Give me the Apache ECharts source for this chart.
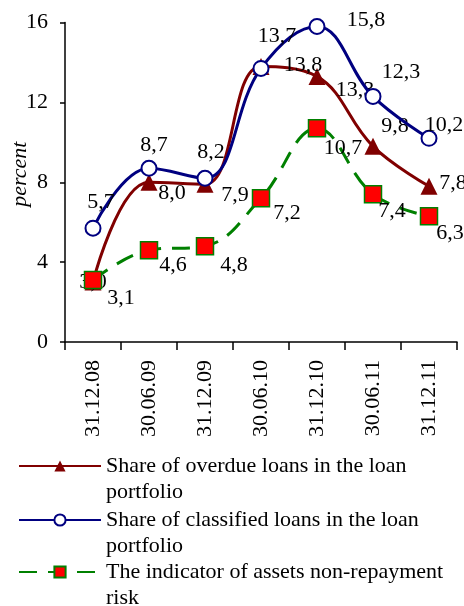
<!DOCTYPE html>
<html>
<head>
<meta charset="utf-8">
<script src="https://cdn.jsdelivr.net/npm/echarts@6/dist/echarts.min.js"></script>
<style>
  html, body { margin: 0; padding: 0; background: #fff; }
  #chart { width: 464px; height: 606px; }
</style>
</head>
<body>
<div id="chart"></div>
<script>
  // data
  let categories = ['31.12.08', '30.06.09', '31.12.09', '30.06.10', '31.12.10', '30.06.11', '31.12.11'];
  let overdue = [3.0, 8.0, 7.9, 13.8, 13.3, 9.8, 7.8];
  let classified = [5.7, 8.7, 8.2, 13.7, 15.8, 12.3, 10.2];
  let risk = [3.1, 4.6, 4.8, 7.2, 10.7, 7.4, 6.3];
  let names = [
    'Share of overdue loans in the loan\nportfolio',
    'Share of classified loans in the loan\nportfolio',
    'The indicator of assets non-repayment\nrisk'
  ];
  let yTicks = { min: 0, max: 16, interval: 4 };

  // label nudges (px, relative to the point), style only
  let overdueNudge = [[0, 0], [23, 11], [30, 11], [42, -1], [38, 14], [22, -20], [24, -3]];
  let classifiedNudge = [[8, -26], [5, -23], [6, -26], [16, -32], [49, -6], [28, -24], [15, -13]];
  let riskNudge = [[28, 18], [24, 15], [29, 19], [26, 15], [26, 20], [19, 17], [21, 17]];

  let font = 'Liberation Serif';

  function withLabels(values, nudge){
    return values.map(function(v, i){
      return { value: v, label: { offset: nudge[i] } };
    });
  }

  let chart = echarts.init(document.getElementById('chart'));
  let labelBase = {
    show: true,
    position: 'inside',
    color: '#000',
    fontFamily: font,
    fontSize: 22,
    formatter: function(p){ return p.value.toFixed(1).replace('.', ','); }
  };

  function legendFor(idx, top){
    return {
      orient: 'vertical',
      left: 18,
      top: top,
      padding: 0,
      itemWidth: 82,
      itemHeight: 14,
      data: [names[idx]],
      selectedMode: false,
      // empty first line so the icon sits beside the first text line
      formatter: function(name){ return '\n' + name; },
      textStyle: {
        fontFamily: font,
        fontSize: 22,
        color: '#000',
        lineHeight: 26
      }
    };
  }

  let option = {
    animation: false,
    legend: [legendFor(0, 427), legendFor(1, 481), legendFor(2, 533)],
    grid: { left: 65, right: 7, top: 22.5, bottom: 264, outerBoundsMode: 'none' },
    xAxis: {
      type: 'category',
      data: categories,
      boundaryGap: true,
      axisLine: { lineStyle: { color: '#000', width: 1.5 } },
      axisTick: { show: true, length: 8, lineStyle: { color: '#000', width: 1.5 } },
      axisLabel: { rotate: 90, margin: 18, color: '#000', fontFamily: font, fontSize: 22 }
    },
    yAxis: {
      type: 'value',
      min: yTicks.min,
      max: yTicks.max,
      interval: yTicks.interval,
      name: 'percent',
      nameLocation: 'middle',
      nameGap: 34,
      nameMoveOverlap: false,
      nameTextStyle: { fontFamily: font, fontSize: 22, fontStyle: 'italic', color: '#000', padding: [0, 0, 0, 16] },
      axisLine: { show: true, lineStyle: { color: '#000', width: 1.5 } },
      axisTick: { show: true, length: 5, lineStyle: { color: '#000', width: 1.5 } },
      axisLabel: { margin: 17, color: '#000', fontFamily: font, fontSize: 22 },
      splitLine: { show: false }
    },
    series: [
      {
        name: names[0],
        type: 'line',
        smooth: 0.4,
        data: withLabels(overdue, overdueNudge),
        symbol: 'triangle',
        symbolSize: 17,
        itemStyle: { color: '#800000' },
        lineStyle: { color: '#800000', width: 3 },
        label: labelBase,
        z: 2
      },
      {
        name: names[1],
        type: 'line',
        smooth: 0.4,
        data: withLabels(classified, classifiedNudge),
        symbol: 'circle',
        symbolSize: 15,
        itemStyle: { color: '#fff', borderColor: '#000080', borderWidth: 2 },
        lineStyle: { color: '#000080', width: 3 },
        label: labelBase,
        z: 3
      },
      {
        name: names[2],
        type: 'line',
        smooth: 0.4,
        data: withLabels(risk, riskNudge),
        symbol: 'rect',
        symbolSize: 17,
        itemStyle: { color: '#ff0000', borderColor: '#008000', borderWidth: 1.5 },
        lineStyle: { color: '#008000', width: 3, type: [18, 11] },
        label: labelBase,
        z: 4
      }
    ]
  };
  chart.setOption(option);
  window.onresize = function () {
    chart.resize();
  }
</script>
</body>
</html>
